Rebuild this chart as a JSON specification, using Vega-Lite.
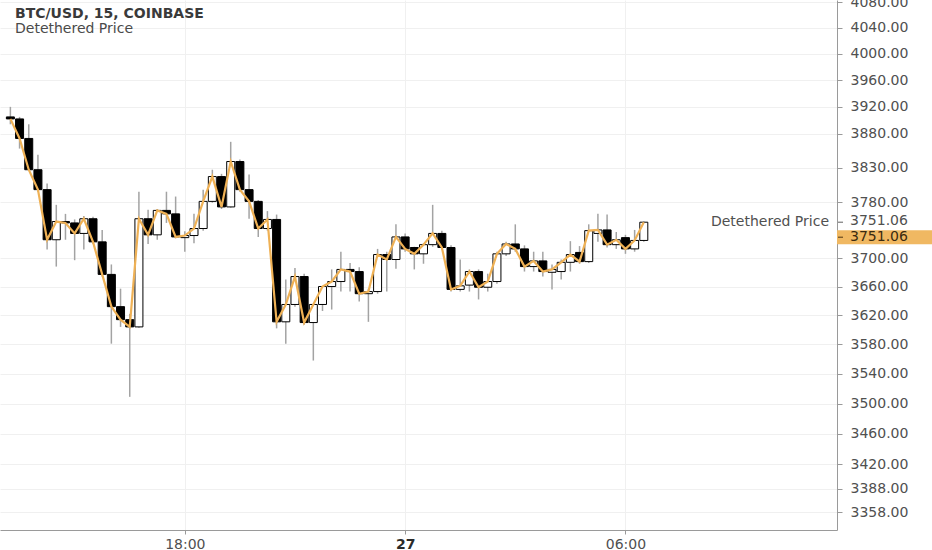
{
  "$schema": "https://vega.github.io/schema/vega-lite/v6.json",
  "width": 837,
  "height": 530,
  "autosize": {"type": "none"},
  "padding": {"left": 0, "top": 0, "right": 95, "bottom": 20},
  "background": "white",
  "config": {"view": {"stroke": null}, "font": "DejaVu Sans"},
  "title": {
    "text": "BTC/USD, 15, COINBASE",
    "subtitle": "Detethered Price",
    "anchor": "start",
    "frame": "group",
    "orient": "top",
    "offset": -41,
    "dx": 15,
    "font": "DejaVu Sans",
    "fontSize": 14,
    "fontWeight": "bold",
    "color": "#3a3a3a",
    "subtitleFont": "DejaVu Sans",
    "subtitleFontSize": 14,
    "subtitleColor": "#4a4a4a",
    "subtitlePadding": 1
  },
  "datasets": {
    "candles": [
      {"t": "2018-12-26T13:15:00", "open": 3905, "high": 3920, "low": 3894, "close": 3902},
      {"t": "2018-12-26T13:30:00", "open": 3902, "high": 3905, "low": 3858, "close": 3873},
      {"t": "2018-12-26T13:45:00", "open": 3873, "high": 3894, "low": 3826, "close": 3827},
      {"t": "2018-12-26T14:00:00", "open": 3827, "high": 3849, "low": 3795, "close": 3798},
      {"t": "2018-12-26T14:15:00", "open": 3798, "high": 3807, "low": 3712, "close": 3726},
      {"t": "2018-12-26T14:30:00", "open": 3726, "high": 3776, "low": 3688, "close": 3752},
      {"t": "2018-12-26T14:45:00", "open": 3752, "high": 3763, "low": 3726, "close": 3750},
      {"t": "2018-12-26T15:00:00", "open": 3750, "high": 3755, "low": 3697, "close": 3735},
      {"t": "2018-12-26T15:15:00", "open": 3735, "high": 3760, "low": 3712, "close": 3756},
      {"t": "2018-12-26T15:30:00", "open": 3756, "high": 3759, "low": 3720, "close": 3723},
      {"t": "2018-12-26T15:45:00", "open": 3723, "high": 3740, "low": 3674, "close": 3677},
      {"t": "2018-12-26T16:00:00", "open": 3677, "high": 3691, "low": 3581, "close": 3632},
      {"t": "2018-12-26T16:15:00", "open": 3632, "high": 3657, "low": 3604, "close": 3614},
      {"t": "2018-12-26T16:30:00", "open": 3614, "high": 3622, "low": 3509, "close": 3604},
      {"t": "2018-12-26T16:45:00", "open": 3604, "high": 3795, "low": 3603, "close": 3756},
      {"t": "2018-12-26T17:00:00", "open": 3756, "high": 3769, "low": 3720, "close": 3733},
      {"t": "2018-12-26T17:15:00", "open": 3733, "high": 3770, "low": 3726, "close": 3768},
      {"t": "2018-12-26T17:30:00", "open": 3768, "high": 3795, "low": 3750, "close": 3763},
      {"t": "2018-12-26T17:45:00", "open": 3763, "high": 3788, "low": 3728, "close": 3730},
      {"t": "2018-12-26T18:00:00", "open": 3729, "high": 3738, "low": 3709, "close": 3732},
      {"t": "2018-12-26T18:15:00", "open": 3732, "high": 3763, "low": 3721, "close": 3742},
      {"t": "2018-12-26T18:30:00", "open": 3742, "high": 3798, "low": 3739, "close": 3781},
      {"t": "2018-12-26T18:45:00", "open": 3781, "high": 3827, "low": 3779, "close": 3817},
      {"t": "2018-12-26T19:00:00", "open": 3817, "high": 3821, "low": 3770, "close": 3773},
      {"t": "2018-12-26T19:15:00", "open": 3773, "high": 3868, "low": 3772, "close": 3839},
      {"t": "2018-12-26T19:30:00", "open": 3839, "high": 3842, "low": 3795, "close": 3798},
      {"t": "2018-12-26T19:45:00", "open": 3798, "high": 3820, "low": 3756, "close": 3781},
      {"t": "2018-12-26T20:00:00", "open": 3781, "high": 3783, "low": 3730, "close": 3742},
      {"t": "2018-12-26T20:15:00", "open": 3742, "high": 3767, "low": 3739, "close": 3755},
      {"t": "2018-12-26T20:30:00", "open": 3755, "high": 3762, "low": 3602, "close": 3611},
      {"t": "2018-12-26T20:45:00", "open": 3611, "high": 3670, "low": 3581, "close": 3635},
      {"t": "2018-12-26T21:00:00", "open": 3635, "high": 3686, "low": 3632, "close": 3674},
      {"t": "2018-12-26T21:15:00", "open": 3674, "high": 3678, "low": 3607, "close": 3610},
      {"t": "2018-12-26T21:30:00", "open": 3610, "high": 3635, "low": 3558, "close": 3635},
      {"t": "2018-12-26T21:45:00", "open": 3635, "high": 3660, "low": 3626, "close": 3660},
      {"t": "2018-12-26T22:00:00", "open": 3660, "high": 3684, "low": 3628, "close": 3667},
      {"t": "2018-12-26T22:15:00", "open": 3667, "high": 3709, "low": 3653, "close": 3684},
      {"t": "2018-12-26T22:30:00", "open": 3684, "high": 3693, "low": 3653, "close": 3681},
      {"t": "2018-12-26T22:45:00", "open": 3681, "high": 3687, "low": 3639, "close": 3650},
      {"t": "2018-12-26T23:00:00", "open": 3650, "high": 3657, "low": 3611, "close": 3653},
      {"t": "2018-12-26T23:15:00", "open": 3653, "high": 3713, "low": 3650, "close": 3705},
      {"t": "2018-12-26T23:30:00", "open": 3705, "high": 3709, "low": 3653, "close": 3698},
      {"t": "2018-12-26T23:45:00", "open": 3698, "high": 3748, "low": 3685, "close": 3730},
      {"t": "2018-12-27T00:00:00", "open": 3730, "high": 3735, "low": 3709, "close": 3713},
      {"t": "2018-12-27T00:15:00", "open": 3715, "high": 3716, "low": 3684, "close": 3706},
      {"t": "2018-12-27T00:30:00", "open": 3706, "high": 3721, "low": 3692, "close": 3719},
      {"t": "2018-12-27T00:45:00", "open": 3719, "high": 3776, "low": 3716, "close": 3735},
      {"t": "2018-12-27T01:00:00", "open": 3735, "high": 3739, "low": 3712, "close": 3715},
      {"t": "2018-12-27T01:15:00", "open": 3715, "high": 3718, "low": 3653, "close": 3656},
      {"t": "2018-12-27T01:30:00", "open": 3656, "high": 3698, "low": 3653, "close": 3661},
      {"t": "2018-12-27T01:45:00", "open": 3662, "high": 3684, "low": 3653, "close": 3681},
      {"t": "2018-12-27T02:00:00", "open": 3681, "high": 3684, "low": 3642, "close": 3659},
      {"t": "2018-12-27T02:15:00", "open": 3659, "high": 3678, "low": 3653, "close": 3667},
      {"t": "2018-12-27T02:30:00", "open": 3667, "high": 3709, "low": 3664, "close": 3706},
      {"t": "2018-12-27T02:45:00", "open": 3706, "high": 3723, "low": 3703, "close": 3720},
      {"t": "2018-12-27T03:00:00", "open": 3720, "high": 3748, "low": 3709, "close": 3713},
      {"t": "2018-12-27T03:15:00", "open": 3713, "high": 3718, "low": 3681, "close": 3688},
      {"t": "2018-12-27T03:30:00", "open": 3688, "high": 3709, "low": 3681, "close": 3696},
      {"t": "2018-12-27T03:45:00", "open": 3696, "high": 3709, "low": 3674, "close": 3681},
      {"t": "2018-12-27T04:00:00", "open": 3680, "high": 3691, "low": 3656, "close": 3684},
      {"t": "2018-12-27T04:15:00", "open": 3681, "high": 3698, "low": 3670, "close": 3694},
      {"t": "2018-12-27T04:30:00", "open": 3694, "high": 3724, "low": 3681, "close": 3705},
      {"t": "2018-12-27T04:45:00", "open": 3708, "high": 3717, "low": 3692, "close": 3695},
      {"t": "2018-12-27T05:00:00", "open": 3695, "high": 3748, "low": 3693, "close": 3739},
      {"t": "2018-12-27T05:15:00", "open": 3735, "high": 3763, "low": 3723, "close": 3740},
      {"t": "2018-12-27T05:30:00", "open": 3740, "high": 3762, "low": 3715, "close": 3719},
      {"t": "2018-12-27T05:45:00", "open": 3719, "high": 3737, "low": 3713, "close": 3726},
      {"t": "2018-12-27T06:00:00", "open": 3729, "high": 3733, "low": 3706, "close": 3713},
      {"t": "2018-12-27T06:15:00", "open": 3713, "high": 3740, "low": 3709, "close": 3725},
      {"t": "2018-12-27T06:30:00", "open": 3725, "high": 3752, "low": 3723, "close": 3751.06}
    ],
    "last": [{"series": "Detethered Price", "price": 3751.06}]
  },
  "layer": [
    {
      "data": {"name": "candles"},
      "mark": {"type": "rule", "color": "#a3a3a3", "strokeWidth": 1.5},
      "encoding": {
        "x": {
          "field": "t",
          "type": "temporal",
          "title": null,
          "scale": {
            "domain": [
              {"year": 2018, "month": 12, "date": 26, "hours": 13, "minutes": 6, "seconds": 12},
              {"year": 2018, "month": 12, "date": 27, "hours": 11, "minutes": 37, "seconds": 30}
            ]
          },
          "axis": {
            "values": [
              {"year": 2018, "month": 12, "date": 26, "hours": 18},
              {"year": 2018, "month": 12, "date": 27, "hours": 0},
              {"year": 2018, "month": 12, "date": 27, "hours": 6}
            ],
            "labelExpr": "hours(datum.value) == 0 ? '' + date(datum.value) : timeFormat(datum.value, '%H:%M')",
            "labelFontWeight": {"condition": {"test": "hours(datum.value) == 0", "value": "bold"}, "value": "normal"},
            "labelColor": {"condition": {"test": "hours(datum.value) == 0", "value": "#2a2a2a"}, "value": "#505050"},
            "labelFont": "DejaVu Sans",
            "labelFontSize": 14,
            "labelPadding": 3,
            "labelFlush": false,
            "grid": true,
            "gridColor": "#f0f0f0",
            "domainColor": "#9a9a9a",
            "tickColor": "#9a9a9a",
            "tickSize": 4
          }
        },
        "y": {
          "field": "low",
          "type": "quantitative",
          "title": null,
          "scale": {"type": "log", "domain": [3335, 4083.3], "nice": false, "zero": false},
          "axis": {
            "orient": "right",
            "values": [4080, 4040, 4000, 3960, 3920, 3880, 3830, 3780, 3700, 3660, 3620, 3580, 3540, 3500, 3460, 3420, 3388, 3358],
            "format": ".2f",
            "labelOverlap": false,
            "labelFont": "DejaVu Sans",
            "labelFontSize": 14,
            "labelColor": "#505050",
            "labelPadding": 8,
            "grid": true,
            "gridColor": "#f0f0f0",
            "domainColor": "#9a9a9a",
            "tickColor": "#9a9a9a",
            "tickSize": 5
          }
        },
        "y2": {"field": "high"}
      }
    },
    {
      "data": {"name": "candles"},
      "mark": {"type": "bar", "size": 8, "stroke": "#000000", "strokeWidth": 1},
      "encoding": {
        "x": {"field": "t", "type": "temporal"},
        "y": {"field": "open", "type": "quantitative", "title": null, "scale": {"type": "log", "domain": [3335, 4083.3], "nice": false, "zero": false}},
        "y2": {"field": "close"},
        "fill": {"condition": {"test": "datum.close > datum.open", "value": "#ffffff"}, "value": "#000000"}
      }
    },
    {
      "data": {"name": "candles"},
      "mark": {"type": "line", "color": "#efb155", "strokeWidth": 2.2},
      "encoding": {
        "x": {"field": "t", "type": "temporal"},
        "y": {"field": "close", "type": "quantitative", "title": null, "scale": {"type": "log", "domain": [3335, 4083.3], "nice": false, "zero": false}}
      }
    },
    {
      "data": {"name": "last"},
      "mark": {"type": "text", "x": {"expr": "width - 8"}, "align": "right", "baseline": "middle", "font": "DejaVu Sans", "fontSize": 14, "color": "#505050"},
      "encoding": {
        "y": {"field": "price", "type": "quantitative", "title": null, "scale": {"type": "log", "domain": [3335, 4083.3], "nice": false, "zero": false}},
        "text": {"field": "series"}
      }
    },
    {
      "data": {"name": "last"},
      "mark": {"type": "text", "x": {"expr": "width + 13"}, "dy": -1, "align": "left", "baseline": "middle", "font": "DejaVu Sans", "fontSize": 14, "color": "#505050"},
      "encoding": {
        "y": {"field": "price", "type": "quantitative", "title": null, "scale": {"type": "log", "domain": [3335, 4083.3], "nice": false, "zero": false}},
        "text": {"field": "price", "format": ".2f"}
      }
    },
    {
      "data": {"name": "last"},
      "mark": {"type": "rule", "x": {"expr": "width + 1"}, "x2": {"expr": "width + 6"}, "color": "#606060"},
      "encoding": {
        "y": {"field": "price", "type": "quantitative", "title": null, "scale": {"type": "log", "domain": [3335, 4083.3], "nice": false, "zero": false}}
      }
    },
    {
      "data": {"name": "last"},
      "mark": {"type": "rect", "x": {"expr": "width"}, "x2": {"expr": "width + 95"}, "color": "#f0b862", "yOffset": 8, "y2Offset": 22},
      "encoding": {
        "y": {"field": "price", "type": "quantitative", "title": null, "scale": {"type": "log", "domain": [3335, 4083.3], "nice": false, "zero": false}},
        "y2": {"field": "price"}
      }
    },
    {
      "data": {"name": "last"},
      "mark": {"type": "rule", "x": {"expr": "width + 1"}, "x2": {"expr": "width + 6"}, "color": "#4a3413", "yOffset": 15},
      "encoding": {
        "y": {"field": "price", "type": "quantitative", "title": null, "scale": {"type": "log", "domain": [3335, 4083.3], "nice": false, "zero": false}}
      }
    },
    {
      "data": {"name": "last"},
      "mark": {"type": "text", "x": {"expr": "width + 13"}, "dy": 15, "align": "left", "baseline": "middle", "font": "DejaVu Sans", "fontSize": 14, "color": "#3a2a10"},
      "encoding": {
        "y": {"field": "price", "type": "quantitative", "title": null, "scale": {"type": "log", "domain": [3335, 4083.3], "nice": false, "zero": false}},
        "text": {"field": "price", "format": ".2f"}
      }
    }
  ]
}
